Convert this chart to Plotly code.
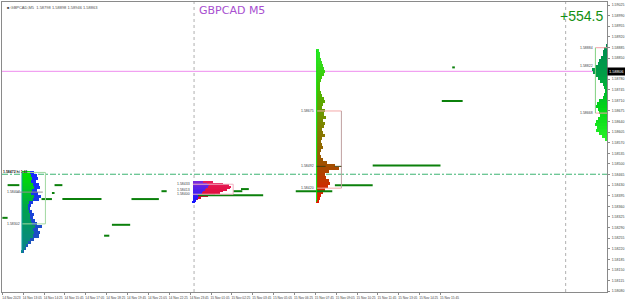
import plotly.graph_objects as go

# ---------------- data ----------------
TITLE = "GBPCAD M5"
PROFIT = "+554.5"
HEADER = "■ GBPCAD,M5  1.58798 1.58898 1.58946 1.58863"
LAST_PRICE = 1.58806
SESSION_LEVEL = 1.58466
DAY_SEP_BAR = 147
SHIFT_BAR = 432

Y_TICKS = [1.59025, 1.58990, 1.58955, 1.58920, 1.58885, 1.58850, 1.58815, 1.58780,
           1.58745, 1.58710, 1.58675, 1.58640, 1.58605, 1.58570, 1.58535, 1.58500,
           1.58465, 1.58430, 1.58395, 1.58360, 1.58325, 1.58290, 1.58255, 1.58220,
           1.58185, 1.58150, 1.58115, 1.58080]
X_TICK_BARS = [0, 16, 32, 48, 64, 80, 96, 112, 128, 144, 160, 176, 192, 208, 224,
               240, 256, 272, 288, 304, 320, 336]
X_TICK_TEXT = ["14 Nov 2023", "14 Nov 13:05", "14 Nov 14:25", "14 Nov 15:45",
               "14 Nov 17:05", "14 Nov 18:25", "14 Nov 19:45", "14 Nov 21:05",
               "14 Nov 22:25", "14 Nov 23:45", "15 Nov 01:05", "15 Nov 02:25",
               "15 Nov 03:45", "15 Nov 05:05", "15 Nov 06:25", "15 Nov 07:45",
               "15 Nov 09:05", "15 Nov 10:25", "15 Nov 11:45", "15 Nov 13:05",
               "15 Nov 14:25", "15 Nov 15:45"]

# price segments (start bar, end bar, price)
SEG_START = [284, 255, 225, 150, 177, 183, 345, 337, 4, 40, 38, 30, 46, 99, 84, 78, 122, 0]
SEG_END = [336, 284, 253, 200, 184, 189, 347, 353, 13, 46, 40, 38, 76, 120, 98, 82, 126, 4]
SEG_PRICE = [1.58495, 1.58430, 1.58410, 1.58397, 1.58410, 1.58417, 1.58819, 1.58708,
             1.58430, 1.58430, 1.58404, 1.58384, 1.58384, 1.58384, 1.58299, 1.58263,
             1.58410, 1.58322]

VOL_TO_BARS = 0.762

# Profile 1 (14 Nov afternoon)
P1_BASE = 15
P1_TOP = 1.58472
P1_STEP = 0.0001
P1_TOTAL = [12, 15, 16, 14, 17, 18, 15, 16, 19, 17, 11, 9, 8, 10, 12, 11, 13, 15, 20,
            16, 18, 17, 12, 9, 6, 4, 2]
P1_INNER = [8, 9, 10, 9, 11, 12, 10, 9, 12, 11, 7, 6, 6, 7, 8, 8, 9, 10, 13, 11, 12,
            11, 8, 6, 4, 3, 1]
P1_VA = [1.58472, 1.58302]
P1_POC = 1.58407
P1_BOX_END = 33

# Profile 2 (Asia)
P2_BASE = 146
P2_TOP = 1.58440
P2_STEP = 0.00005
P2_TOTAL = [20, 30, 36, 38, 37, 34, 30, 27, 22, 15, 8, 5, 3, 2]
P2_INNER = [10, 14, 16, 15, 13, 12, 10, 9, 7, 6, 5, 4, 3, 2]
P2_VA = [1.58433, 1.58400]
P2_POC = 1.58413
P2_BOX_END = 177

# Profile 3 (London)
P3_BASE = 241
P3_TOP = 1.58875
P3_STEP = 0.0001
P3_VOL = [2, 3, 3, 4, 5, 6, 7, 8, 7, 5, 4, 3, 3, 3, 4, 5, 7, 8, 6, 5, 8, 7, 9, 6, 8,
          7, 5, 6, 8, 5, 4, 5, 6, 4, 3, 4, 6, 10, 18, 23, 12, 8, 9, 12, 13, 11, 8, 6,
          4, 3, 2]
P3_VA = [1.58675, 1.58420]
P3_POC = 1.58492
P3_BOX_END = 260

# Profile 4 (current, drawn from right edge)
P4_RIGHT = 464
P4_TOP = 1.58891
P4_STEP = 0.0001
P4_VOL = [1, 3, 4, 4, 6, 8, 9, 12, 15, 14, 11, 9, 7, 4, 3, 2, 3, 4, 8, 10, 11, 9, 8,
          7, 9, 11, 12, 10, 11, 8, 5, 2]
P4_VA = [1.58884, 1.58668]
P4_POC = 1.58822
P4_BOX_START = 454.8


# ---------------- helpers ----------------
def levels(top, step, n):
    return [round(top - i * step, 6) for i in range(n)]


def gradient(stops, n):
    out = []
    for i in range(n):
        t = i / max(n - 1, 1) * (len(stops) - 1)
        k = min(int(t), len(stops) - 2)
        f = t - k
        a, b = stops[k], stops[k + 1]
        out.append("rgb(%d,%d,%d)" % tuple(round(a[j] + (b[j] - a[j]) * f) for j in range(3)))
    return out


def hbar(y, vol, base, colors, width, sign=1):
    return go.Bar(orientation="h", y=y, x=[sign * v * VOL_TO_BARS for v in vol], base=base,
                  width=width, marker=dict(color=colors, line=dict(width=0)),
                  showlegend=False, hoverinfo="skip")


fig = go.Figure()

# profile 1
y1 = levels(P1_TOP, P1_STEP, len(P1_TOTAL))
fig.add_trace(hbar(y1, P1_TOTAL, P1_BASE, gradient([(20, 40, 255), (30, 90, 180)], len(y1)), P1_STEP))
fig.add_trace(hbar(y1, P1_INNER, P1_BASE, gradient([(0, 225, 0), (0, 160, 80), (10, 130, 140)], len(y1)), P1_STEP))
# profile 2
y2 = levels(P2_TOP, P2_STEP, len(P2_TOTAL))
fig.add_trace(hbar(y2, P2_TOTAL, P2_BASE, gradient([(230, 30, 90), (220, 0, 40)], len(y2)), P2_STEP))
fig.add_trace(hbar(y2, P2_INNER, P2_BASE, gradient([(120, 40, 220), (20, 20, 255)], len(y2)), P2_STEP))
# profile 3
y3 = levels(P3_TOP, P3_STEP, len(P3_VOL))
fig.add_trace(hbar(y3, P3_VOL, P3_BASE,
                   gradient([(40, 235, 40), (70, 190, 0), (128, 130, 0), (160, 80, 0), (235, 20, 0)], len(y3)),
                   P3_STEP))
# profile 4
y4 = levels(P4_TOP, P4_STEP, len(P4_VOL))
fig.add_trace(hbar(y4, P4_VOL, P4_RIGHT, gradient([(0, 140, 80), (0, 160, 70), (0, 215, 20), (40, 240, 40)], len(y4)),
                   P4_STEP, sign=-1))

# price segments
sx, sy = [], []
for a, b, p in zip(SEG_START, SEG_END, SEG_PRICE):
    sx += [a, b, None]
    sy += [p, p, None]
fig.add_trace(go.Scatter(x=sx, y=sy, mode="lines", line=dict(color="#0b800b", width=2),
                         showlegend=False, hoverinfo="skip"))

shapes = []
shapes.append(dict(type="line", xref="paper", x0=0, x1=1, y0=LAST_PRICE, y1=LAST_PRICE,
                   line=dict(color="#ee8cee", width=1), layer="below"))
shapes.append(dict(type="line", xref="paper", x0=0, x1=1, y0=SESSION_LEVEL, y1=SESSION_LEVEL,
                   line=dict(color="#3cb371", width=1, dash="6px,2px,2px,2px"), layer="below"))
for xb in (DAY_SEP_BAR, SHIFT_BAR):
    shapes.append(dict(type="line", yref="paper", y0=0, y1=1, x0=xb, x1=xb,
                       line=dict(color="#b0b0b0", width=1, dash="dot"), layer="below"))


def box(x0, x1, va, edge_col, side_col, side_x):
    shapes.append(dict(type="line", x0=x0, x1=x1, y0=va[0], y1=va[0], line=dict(color=edge_col, width=1)))
    shapes.append(dict(type="line", x0=x0, x1=x1, y0=va[1], y1=va[1], line=dict(color=edge_col, width=1)))
    shapes.append(dict(type="line", x0=side_x, x1=side_x, y0=va[0], y1=va[1], line=dict(color=side_col, width=1)))


box(P1_BASE, P1_BOX_END, P1_VA, "#a0d8a0", "#a0d8a0", P1_BOX_END)
box(P2_BASE, P2_BOX_END, P2_VA, "#f0b0c0", "#f0b0c0", P2_BOX_END)
box(P3_BASE, P3_BOX_END, P3_VA, "#f4a8a8", "#c0a0a0", P3_BOX_END)
box(P4_BOX_START, P4_RIGHT, P4_VA, "#f4a0a8", "#80d080", P4_BOX_START)
shapes.append(dict(type="line", x0=P3_BASE, x1=P3_BASE, y0=y3[-1], y1=y3[0], line=dict(color="#00e000", width=1)))
shapes.append(dict(type="line", x0=P1_BASE, x1=P1_BASE, y0=y1[-1], y1=y1[0], line=dict(color="#10a0a0", width=1)))
shapes.append(dict(type="line", x0=P3_BASE, x1=P3_BOX_END, y0=P3_POC, y1=P3_POC,
                   line=dict(color="#404010", width=1, dash="dash")))
shapes.append(dict(type="line", x0=P1_BASE - 4, x1=P1_BOX_END - 2, y0=P1_POC, y1=P1_POC,
                   line=dict(color="#909090", width=1)))

ann = []
small = dict(family="Liberation Sans", size=3.5, color="#404040")


def plabel(xb, price):
    ann.append(dict(x=xb, y=price, text="%.5f" % price, showarrow=False, xanchor="right",
                    yanchor="middle", font=small, borderpad=0))


for pr in (P1_VA[1], P1_POC):
    plabel(P1_BASE - 1, pr)
for pr in (P2_VA[0], P2_POC, P2_VA[1]):
    plabel(P2_BASE - 1, pr)
for pr in (P3_VA[0], P3_POC, P3_VA[1]):
    plabel(P3_BASE - 1, pr)
for pr in (P4_VA[0], P4_POC, P4_VA[1]):
    plabel(P4_BOX_START - 1, pr)
ann.append(dict(x=0, y=P1_VA[0], text="<b>1.58472 hi 1.61</b>", showarrow=False, xanchor="left",
                yanchor="middle", borderpad=0,
                font=dict(family="Liberation Sans", size=3.5, color="#202020")))

ann.append(dict(xref="paper", yref="paper", x=0.005, y=0.995, text=HEADER, showarrow=False,
                xanchor="left", yanchor="top", font=dict(family="Liberation Sans", size=4, color="#505050")))
ann.append(dict(xref="paper", yref="paper", x=0.322, y=1.0, text=TITLE, showarrow=False,
                xanchor="left", yanchor="top", font=dict(family="DejaVu Sans", size=11, color="#a84fd0")))
ann.append(dict(xref="paper", yref="paper", x=0.997, y=0.985, text=PROFIT, showarrow=False,
                xanchor="right", yanchor="top", font=dict(family="Liberation Sans", size=14, color="#129012")))
ann.append(dict(xref="paper", x=1.0, y=LAST_PRICE, text="%.5f" % LAST_PRICE, showarrow=False,
                xanchor="left", yanchor="middle", bgcolor="#000000", borderpad=1,
                font=dict(family="Liberation Sans", size=4, color="#ffffff")))

# tick label hidden behind the last-price box (as on the terminal)
y_tick_text = ["" if abs(v - LAST_PRICE) < 0.00015 else "%.5f" % v for v in Y_TICKS]

fig.update_layout(
    width=625, height=301,
    margin=dict(l=1, r=15, t=1, b=7),
    paper_bgcolor="white", plot_bgcolor="white",
    barmode="overlay", bargap=0,
    shapes=shapes, annotations=ann,
    showlegend=False,
)
fig.update_xaxes(range=[-0.3, 463.7], showgrid=False, zeroline=False,
                 showline=True, linecolor="#8a8a8a", linewidth=1, mirror=True,
                 tickmode="array", tickvals=X_TICK_BARS, ticktext=X_TICK_TEXT,
                 ticks="outside", ticklen=2, tickcolor="#8a8a8a", tickangle=0,
                 ticklabelshift=9, ticklabelstandoff=0,
                 tickfont=dict(family="Liberation Sans", size=3.2, color="#404040"))
fig.update_yaxes(range=[1.58077, 1.59035], side="right", showgrid=False, zeroline=False,
                 showline=True, linecolor="#8a8a8a", linewidth=1, mirror=True,
                 tickmode="array", tickvals=Y_TICKS, ticktext=y_tick_text,
                 ticks="outside", ticklen=2, tickcolor="#8a8a8a", ticklabelstandoff=1,
                 tickfont=dict(family="Liberation Sans", size=3.5, color="#404040"))

fig.write_html("out.html")
